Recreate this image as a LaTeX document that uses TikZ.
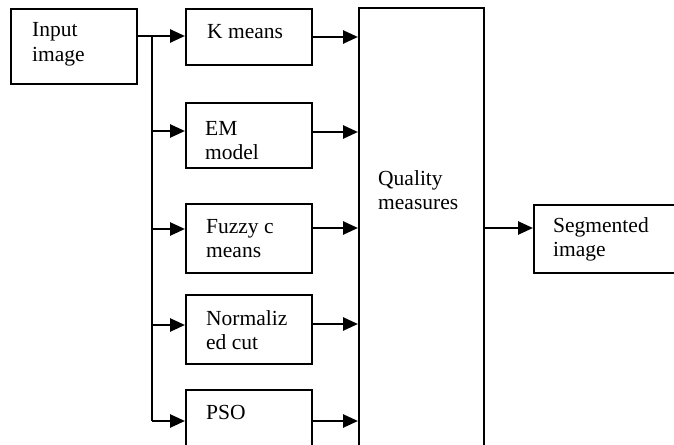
\documentclass[tikz,border=0pt]{standalone}
\usepackage{fontspec}
\setmainfont{Liberation Serif}
\usetikzlibrary{arrows.meta,calc}
\newcommand{\twol}[2]{\begin{tabular}[t]{@{}l@{}}#1\\#2\end{tabular}}
\begin{document}
\begin{tikzpicture}[x=1pt,y=-1pt,
 box/.style={draw,line width=1.8pt,inner sep=0pt,anchor=north west},
 lbl/.style={anchor=base west,inner sep=0pt,font=\fontsize{21.5}{24.5}\selectfont},
 conn/.style={line width=2.6pt},
 arr/.style={conn,-{Triangle[length=15pt,width=13pt]}}]
\clip (0,0) rectangle (674,444);
\fill[white] (0,0) rectangle (674,444);
% boxes
\node[box,minimum width=126pt,minimum height=75pt] (in) at (10,8) {};
\node[box,minimum width=126pt,minimum height=56pt] (km) at (185,8) {};
\node[box,minimum width=126pt,minimum height=65pt] (em) at (185,102) {};
\node[box,minimum width=126pt,minimum height=69pt] (fz) at (185,203) {};
\node[box,minimum width=126pt,minimum height=69pt] (nc) at (185,294) {};
\node[box,minimum width=126pt,minimum height=70pt] (pso) at (185,389) {};
\node[box,minimum width=125pt,minimum height=460pt] (q) at (358,7) {};
\node[box,minimum width=160pt,minimum height=68pt] (seg) at (533,204) {};
% texts
\node[lbl] (tin) at (32,37) {\twol{Input}{image}};
\node[lbl] (tkm) at (207,39) {K means};
\node[lbl] (tem) at (205,135) {\twol{EM}{model}};
\node[lbl] (tfz) at (206,233) {\twol{Fuzzy c}{means}};
\node[lbl] (tnc) at (206,325) {\twol{Normaliz}{ed cut}};
\node[lbl] (tps) at (206,419) {PSO};
\node[lbl] (tq) at (378,185) {\twol{Quality}{measures}};
\node[lbl] (tsg) at (553,232) {\twol{Segmented}{image}};
% connection points
\coordinate (split) at (152,0);
\coordinate (kmi) at ($(km.north west)+(0,28)$);
\coordinate (emi) at ($(em.north west)+(0,29)$);
\coordinate (fzi) at ($(fz.north west)+(0,26)$);
\coordinate (nci) at ($(nc.north west)+(0,31)$);
\coordinate (psoi) at ($(pso.north west)+(0,32)$);
\coordinate (kmo) at ($(km.north east)+(0,29)$);
\coordinate (emo) at ($(em.north east)+(0,30)$);
\coordinate (fzo) at ($(fz.north east)+(0,25)$);
\coordinate (nco) at ($(nc.north east)+(0,30)$);
\coordinate (psoo) at ($(pso.north east)+(0,32)$);
\coordinate (sgi) at ($(seg.north west)+(0,24)$);
% connectors
\draw[arr] (in.east |- kmi) -- (kmi);
\draw[conn] (split |- kmi) -- (split |- psoi);
\draw[arr] (split |- emi) -- (emi);
\draw[arr] (split |- fzi) -- (fzi);
\draw[arr] (split |- nci) -- (nci);
\draw[arr] (split |- psoi) -- (psoi);
\draw[arr] (kmo) -- (q.west |- kmo);
\draw[arr] (emo) -- (q.west |- emo);
\draw[arr] (fzo) -- (q.west |- fzo);
\draw[arr] (nco) -- (q.west |- nco);
\draw[arr] (psoo) -- (q.west |- psoo);
\draw[arr] (q.east |- sgi) -- (sgi);
\end{tikzpicture}
\end{document}
